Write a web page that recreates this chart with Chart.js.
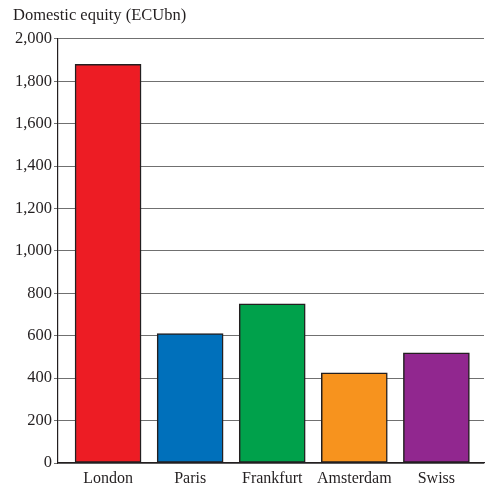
<!DOCTYPE html>
<html>
<head>
<meta charset="utf-8">
<script src="https://cdn.jsdelivr.net/npm/chart.js@4.4.1/dist/chart.umd.min.js"></script>
<style>
    html, body { margin: 0; padding: 0; background: #fff; }
    #wrap { width: 487px; height: 486px; position: relative; }
</style>
</head>
<body>
<div id="wrap"><canvas id="equityChart"></canvas></div>
<script>
const exchanges = ['London', 'Paris', 'Frankfurt', 'Amsterdam', 'Swiss'];
const equityValues = [1880, 610, 750, 425, 520];
const barColors = ['#ed1c24', '#0070bb', '#00a14b', '#f7931e', '#91278f'];
const yTicks = [0, 200, 400, 600, 800, 1000, 1200, 1400, 1600, 1800, 2000];

const serif = "'Liberation Serif', 'Times New Roman', serif";
const ink = '#231f20';

document.addEventListener('DOMContentLoaded', function() {
    const ctx = document.getElementById('equityChart').getContext('2d');

    new Chart(ctx, {
        type: 'bar',
        data: {
            datasets: [{
                data: equityValues.map((v, i) => ({ x: i, y: v })),
                backgroundColor: barColors,
                borderColor: ink,
                borderWidth: 1.5,
                borderSkipped: false,
                barThickness: 66
            }]
        },
        options: {
            responsive: true,
            maintainAspectRatio: false,
            animation: false,
            layout: {
                padding: { left: 13, right: 3, top: 0, bottom: 0 }
            },
            plugins: {
                legend: { display: false },
                tooltip: { enabled: false },
                title: {
                    display: true,
                    text: 'Domestic equity (ECUbn)',
                    align: 'start',
                    color: ink,
                    font: { family: serif, size: 16.5, weight: 'normal' },
                    padding: { top: 6, bottom: 13 }
                }
            },
            scales: {
                x: {
                    type: 'linear',
                    offset: false,
                    min: -0.61,
                    max: 4.58,
                    grid: { display: false, drawTicks: false },
                    border: { display: true, color: ink, width: 1.2 },
                    afterBuildTicks: function(scale) {
                        scale.ticks = exchanges.map((_, i) => ({ value: i }));
                    },
                    afterFit: function(scale) {
                        scale.height = 23;
                    },
                    ticks: {
                        color: ink,
                        padding: 6,
                        autoSkip: false,
                        maxRotation: 0,
                        font: { family: serif, size: 16 },
                        callback: function(value) {
                            return exchanges[value];
                        }
                    }
                },
                y: {
                    min: 0,
                    max: 2000,
                    afterBuildTicks: function(scale) {
                        scale.ticks = yTicks.map(v => ({ value: v }));
                    },
                    afterFit: function(scale) {
                        scale.width = 45;
                    },
                    grid: {
                        color: '#707070',
                        lineWidth: 1,
                        tickLength: 4,
                        drawTicks: true
                    },
                    border: { display: true, color: ink, width: 1.2 },
                    ticks: {
                        color: ink,
                        padding: 2,
                        font: { family: serif, size: 16.5 },
                        callback: function(value) {
                            return value.toLocaleString('en-US');
                        }
                    }
                }
            }
        }
    });
});
</script>
</body>
</html>
